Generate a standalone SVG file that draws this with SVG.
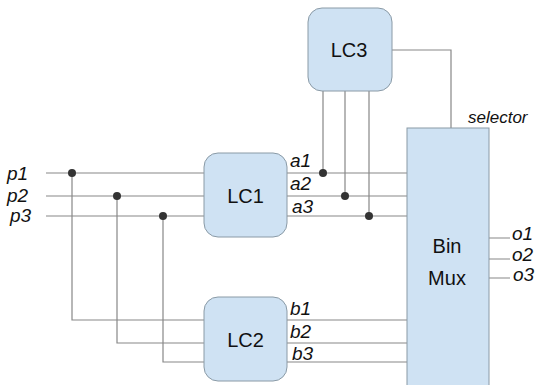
<svg xmlns="http://www.w3.org/2000/svg" width="541" height="385" viewBox="0 0 541 385">
<style>
.box{fill:#cfe2f3;stroke:#8a9aa6;stroke-width:1}
.w{fill:none;stroke:#888;stroke-width:1.2}
.d{fill:#333}
.t{font-family:"Liberation Sans",Arial,sans-serif;font-size:20px;fill:#111;text-anchor:middle}
.l{font-family:"Liberation Sans",Arial,sans-serif;font-size:19px;font-style:italic;fill:#111}
</style>
<rect width="541" height="385" fill="#fff"/>
<g id="connectors">
<path class="w" d="M46 173H204M46 196H204M46 216H204"/>
<path class="w" d="M72 173V320H204M117 196V343H204M163 216V362H204"/>
<path class="w" d="M287 173H407M287 196H407M287 216H407"/>
<path class="w" d="M323 91V173M345 91V196M369 91V216"/>
<path class="w" d="M287 320H407M287 343H407M287 362H407"/>
<path class="w" d="M392 50H451V128"/>
<path class="w" d="M489 238H510M489 259H510M489 278H510"/>
<circle class="d" cx="72" cy="173" r="4"/>
<circle class="d" cx="117" cy="196" r="4"/>
<circle class="d" cx="163" cy="216" r="4"/>
<circle class="d" cx="323" cy="173" r="4"/>
<circle class="d" cx="345" cy="196" r="4"/>
<circle class="d" cx="369" cy="216" r="4"/>
</g>
<g id="LC1"><rect class="box" x="204" y="153" width="83" height="84" rx="14"/><text class="t" x="245.5" y="203">LC1</text></g>
<g id="LC2"><rect class="box" x="204" y="297" width="83" height="84" rx="14"/><text class="t" x="245.5" y="347">LC2</text></g>
<g id="LC3"><rect class="box" x="308" y="8" width="84" height="83" rx="14"/><text class="t" x="349" y="57">LC3</text></g>
<g id="BinMux"><rect class="box" x="407" y="128" width="82" height="265"/><text class="t" x="447" y="253">Bin</text><text class="t" x="447" y="285">Mux</text></g>
<g id="labels">
<text class="l" x="7" y="180">p1</text>
<text class="l" x="7" y="202">p2</text>
<text class="l" x="10" y="222">p3</text>
<text class="l" x="290" y="167">a1</text>
<text class="l" x="290" y="190">a2</text>
<text class="l" x="292" y="213">a3</text>
<text class="l" x="290" y="315">b1</text>
<text class="l" x="290" y="338">b2</text>
<text class="l" x="292" y="360">b3</text>
<text class="l" x="468" y="123" style="font-size:17px">selector</text>
<text class="l" x="512" y="240">o1</text>
<text class="l" x="512" y="261">o2</text>
<text class="l" x="513" y="281">o3</text>
</g>
</svg>
